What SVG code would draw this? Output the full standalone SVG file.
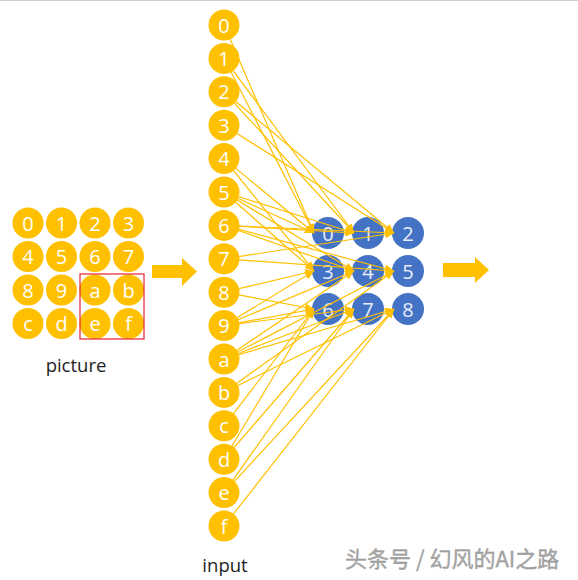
<svg xmlns="http://www.w3.org/2000/svg" width="578" height="580" viewBox="0 0 578 580">
<style>
.y{fill:#FFC000}
.b{fill:#4472C4}
.t{font-family:"Open Sans","Noto Sans",sans-serif;font-size:20px;fill:#fff;text-anchor:middle;dominant-baseline:central}
.tb{font-family:"Open Sans","Noto Sans",sans-serif;font-size:20px;fill:#e9eef9;text-anchor:middle;dominant-baseline:central}
.c line{stroke:#FFC000;stroke-width:1.2;marker-end:url(#ah)}
.lbl{font-family:"Open Sans","Noto Sans",sans-serif;font-size:18.5px;fill:#1e1e1e;text-anchor:middle}
</style>
<defs>
<marker id="ah" markerUnits="userSpaceOnUse" markerWidth="9" markerHeight="8" refX="9" refY="4" orient="auto">
<path d="M0,0 L9,4 L0,8 z" fill="#FFC000"/>
</marker>
</defs>
<rect width="578" height="580" fill="#fff"/>
<line x1="0" y1="0.5" x2="578" y2="0.5" stroke="#cfcfcf" stroke-width="1"/>

<g id="picture">
<circle class="y" cx="28" cy="223" r="15.5"/><text class="t" x="28" y="223">0</text>
<circle class="y" cx="61.5" cy="223" r="15.5"/><text class="t" x="61.5" y="223">1</text>
<circle class="y" cx="95" cy="223" r="15.5"/><text class="t" x="95" y="223">2</text>
<circle class="y" cx="128.5" cy="223" r="15.5"/><text class="t" x="128.5" y="223">3</text>
<circle class="y" cx="28" cy="256.5" r="15.5"/><text class="t" x="28" y="256.5">4</text>
<circle class="y" cx="61.5" cy="256.5" r="15.5"/><text class="t" x="61.5" y="256.5">5</text>
<circle class="y" cx="95" cy="256.5" r="15.5"/><text class="t" x="95" y="256.5">6</text>
<circle class="y" cx="128.5" cy="256.5" r="15.5"/><text class="t" x="128.5" y="256.5">7</text>
<circle class="y" cx="28" cy="290" r="15.5"/><text class="t" x="28" y="290">8</text>
<circle class="y" cx="61.5" cy="290" r="15.5"/><text class="t" x="61.5" y="290">9</text>
<circle class="y" cx="95" cy="290" r="15.5"/><text class="t" x="95" y="290">a</text>
<circle class="y" cx="128.5" cy="290" r="15.5"/><text class="t" x="128.5" y="290">b</text>
<circle class="y" cx="28" cy="323.5" r="15.5"/><text class="t" x="28" y="323.5">c</text>
<circle class="y" cx="61.5" cy="323.5" r="15.5"/><text class="t" x="61.5" y="323.5">d</text>
<circle class="y" cx="95" cy="323.5" r="15.5"/><text class="t" x="95" y="323.5">e</text>
<circle class="y" cx="128.5" cy="323.5" r="15.5"/><text class="t" x="128.5" y="323.5">f</text>
<rect x="80" y="274" width="64" height="65" fill="none" stroke="#E8202A" stroke-width="1.2"/>
<text class="lbl" x="76" y="372">picture</text>
</g>

<g id="arrow1"><path class="y" d="M152,265 H182 V258 L197,271.5 L182,286 V278 H152 z"/></g>
<g id="arrow2"><path class="y" d="M443,263 H475 V257 L489,270 L475,283 V277 H443 z"/></g>

<g id="output">
<g id="o0"><circle class="b" cx="328" cy="233" r="16"/><text class="tb" x="328" y="233">0</text></g>
<g id="o1"><circle class="b" cx="368" cy="233" r="16"/><text class="tb" x="368" y="233">1</text></g>
<g id="o2"><circle class="b" cx="408" cy="233" r="16"/><text class="tb" x="408" y="233">2</text></g>
<g id="o3"><circle class="b" cx="328" cy="271" r="16"/><text class="tb" x="328" y="271">3</text></g>
<g id="o4"><circle class="b" cx="368" cy="271" r="16"/><text class="tb" x="368" y="271">4</text></g>
<g id="o5"><circle class="b" cx="408" cy="271" r="16"/><text class="tb" x="408" y="271">5</text></g>
<g id="o6"><circle class="b" cx="328" cy="309" r="16"/><text class="tb" x="328" y="309">6</text></g>
<g id="o7"><circle class="b" cx="368" cy="309" r="16"/><text class="tb" x="368" y="309">7</text></g>
<g id="o8"><circle class="b" cx="408" cy="309" r="16"/><text class="tb" x="408" y="309">8</text></g>
</g>

<g id="connectors" class="c">
<line x1="224" y1="25" x2="314" y2="233"/>
<line x1="224" y1="58.4" x2="314" y2="233"/>
<line x1="224" y1="158.6" x2="314" y2="233"/>
<line x1="224" y1="192" x2="314" y2="233"/>

<line x1="224" y1="58.4" x2="354" y2="233"/>
<line x1="224" y1="91.8" x2="354" y2="233"/>
<line x1="224" y1="192" x2="354" y2="233"/>
<line x1="224" y1="225.4" x2="354" y2="233"/>

<line x1="224" y1="91.8" x2="394" y2="233"/>
<line x1="224" y1="125.2" x2="394" y2="233"/>
<line x1="224" y1="225.4" x2="394" y2="233"/>
<line x1="224" y1="258.8" x2="394" y2="233"/>

<line x1="224" y1="158.6" x2="314" y2="271"/>
<line x1="224" y1="192" x2="314" y2="271"/>
<line x1="224" y1="292.2" x2="314" y2="271"/>
<line x1="224" y1="325.6" x2="314" y2="271"/>

<line x1="224" y1="192" x2="354" y2="271"/>
<line x1="224" y1="225.4" x2="354" y2="271"/>
<line x1="224" y1="325.6" x2="354" y2="271"/>
<line x1="224" y1="359" x2="354" y2="271"/>

<line x1="224" y1="225.4" x2="394" y2="271"/>
<line x1="224" y1="258.8" x2="394" y2="271"/>
<line x1="224" y1="359" x2="394" y2="271"/>
<line x1="224" y1="392.4" x2="394" y2="271"/>

<line x1="224" y1="292.2" x2="314" y2="309"/>
<line x1="224" y1="325.6" x2="314" y2="309"/>
<line x1="224" y1="425.8" x2="314" y2="309"/>
<line x1="224" y1="459.2" x2="314" y2="309"/>

<line x1="224" y1="325.6" x2="354" y2="309"/>
<line x1="224" y1="359" x2="354" y2="309"/>
<line x1="224" y1="459.2" x2="354" y2="309"/>
<line x1="224" y1="492.6" x2="354" y2="309"/>

<line x1="224" y1="359" x2="394" y2="309"/>
<line x1="224" y1="392.4" x2="394" y2="309"/>
<line x1="224" y1="492.6" x2="394" y2="309"/>
<line x1="224" y1="526" x2="394" y2="309"/>
</g>

<g id="input">
<g id="i0"><circle class="y" cx="224" cy="25" r="15.5"/><text class="t" x="224" y="25">0</text></g>
<g id="i1"><circle class="y" cx="224" cy="58.4" r="15.5"/><text class="t" x="224" y="58.4">1</text></g>
<g id="i2"><circle class="y" cx="224" cy="91.8" r="15.5"/><text class="t" x="224" y="91.8">2</text></g>
<g id="i3"><circle class="y" cx="224" cy="125.2" r="15.5"/><text class="t" x="224" y="125.2">3</text></g>
<g id="i4"><circle class="y" cx="224" cy="158.6" r="15.5"/><text class="t" x="224" y="158.6">4</text></g>
<g id="i5"><circle class="y" cx="224" cy="192" r="15.5"/><text class="t" x="224" y="192">5</text></g>
<g id="i6"><circle class="y" cx="224" cy="225.4" r="15.5"/><text class="t" x="224" y="225.4">6</text></g>
<g id="i7"><circle class="y" cx="224" cy="258.8" r="15.5"/><text class="t" x="224" y="258.8">7</text></g>
<g id="i8"><circle class="y" cx="224" cy="292.2" r="15.5"/><text class="t" x="224" y="292.2">8</text></g>
<g id="i9"><circle class="y" cx="224" cy="325.6" r="15.5"/><text class="t" x="224" y="325.6">9</text></g>
<g id="ia"><circle class="y" cx="224" cy="359" r="15.5"/><text class="t" x="224" y="359">a</text></g>
<g id="ib"><circle class="y" cx="224" cy="392.4" r="15.5"/><text class="t" x="224" y="392.4">b</text></g>
<g id="ic"><circle class="y" cx="224" cy="425.8" r="15.5"/><text class="t" x="224" y="425.8">c</text></g>
<g id="id"><circle class="y" cx="224" cy="459.2" r="15.5"/><text class="t" x="224" y="459.2">d</text></g>
<g id="ie"><circle class="y" cx="224" cy="492.6" r="15.5"/><text class="t" x="224" y="492.6">e</text></g>
<g id="if"><circle class="y" cx="224" cy="526" r="15.5"/><text class="t" x="224" y="526">f</text></g>
<text class="lbl" x="225" y="572">input</text>
</g>

<text x="345" y="567" font-family="'Noto Sans CJK SC',sans-serif" font-size="22" fill="#a8a8a8" stroke="#8a8a8a" stroke-width="0.3">头条号 / 幻风的AI之路</text>
</svg>
